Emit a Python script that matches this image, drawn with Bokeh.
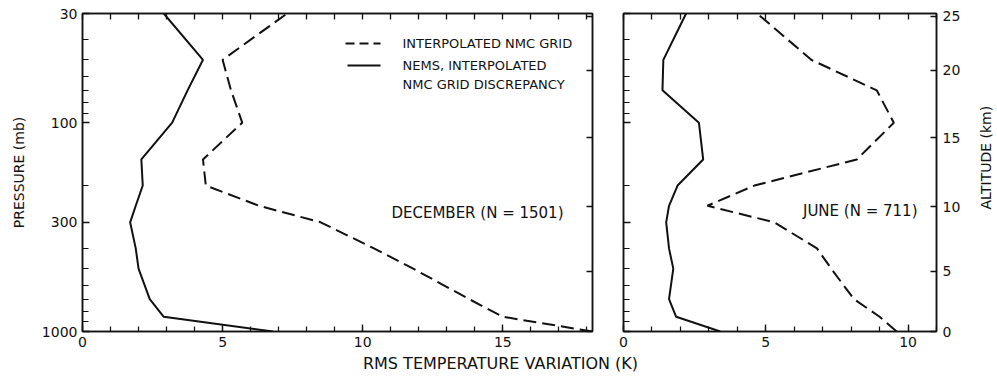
from math import pi

from bokeh.plotting import figure
from bokeh.layouts import row, column
from bokeh.models import (Range1d, FixedTicker, LogAxis, LinearAxis, Label,
                          Arrow, NumeralTickFormatter, CustomLabelingPolicy)
from bokeh.embed import file_html
from bokeh.resources import INLINE

FONT = "DejaVu Sans"
INK = "#111111"

# Pressure levels (mb) at which the profiles are given
LEVELS = [1000, 850, 700, 500, 400, 300, 250, 200, 150, 100, 70, 50, 30]

# December (N = 1501): RMS temperature variation (K)
DEC_NMC = [18.2, 15.0, 13.8, 11.8, 10.4, 8.5, 6.3, 4.4, 4.3, 5.7, 5.3, 5.0, 7.3]
DEC_DISC = [6.8, 2.9, 2.4, 2.0, 1.9, 1.7, 1.9, 2.15, 2.1, 3.2, 3.75, 4.3, 2.9]

# June (N = 711)
JUN_NMC = [9.6, 9.0, 8.1, 7.3, 6.8, 5.3, 2.95, 4.6, 8.2, 9.5, 8.9, 6.6, 4.7]
JUN_DISC = [3.4, 1.85, 1.6, 1.75, 1.6, 1.5, 1.6, 1.9, 2.8, 2.65, 1.37, 1.4, 2.2]

# Axis ticks
P_TICKS = [30, 100, 300, 1000]
P_MINOR = [40, 50, 60, 70, 80, 90, 200, 400, 500, 600, 700, 800, 900]
ALT_KM = [0, 5, 10, 15, 20, 25]
ALT_P = [1000, 516, 252, 118, 56, 31]   # pressure level of each altitude mark
X_TICKS = [0, 5, 10, 15]

SERIES_NAMES = ["INTERPOLATED NMC GRID", "NEMS, INTERPOLATED\nNMC GRID DISCREPANCY"]

# drops every tick label of an axis that only carries tick marks
NO_LABELS = "for (const i of [...indices]) indices.unset(i); return indices;"


def style_ticks(ax, tick_in=6, minor_in=5):
    ax.axis_line_color = INK
    ax.axis_line_width = 1.5
    ax.major_tick_line_color = INK
    ax.minor_tick_line_color = INK
    ax.major_tick_line_width = 1.3
    ax.minor_tick_line_width = 1.2
    ax.major_tick_in = tick_in
    ax.major_tick_out = 0
    ax.minor_tick_in = minor_in
    ax.minor_tick_out = 0
    ax.major_label_text_font = FONT
    ax.major_label_text_font_size = "14px"
    ax.major_label_text_color = INK


def hide_labels(ax):
    ax.major_label_policy = CustomLabelingPolicy(code=NO_LABELS)
    ax.major_label_text_font_size = "0px"
    ax.major_label_standoff = 0


def make_panel(xmax, frame_w, border_l, border_r, p_labels, alt_labels):
    p = figure(frame_width=frame_w, frame_height=318,
               x_range=Range1d(0, xmax), y_range=Range1d(1000, 30),
               y_axis_type="log", output_backend="svg", toolbar_location=None,
               min_border_left=border_l, min_border_right=border_r,
               min_border_top=13, min_border_bottom=22)
    p.grid.visible = False
    p.outline_line_color = INK
    p.outline_line_width = 1.5
    p.background_fill_color = "white"
    p.border_fill_color = "white"

    # bottom temperature axis
    xa = p.xaxis[0]
    xa.ticker = FixedTicker(ticks=X_TICKS, minor_ticks=list(range(0, int(xmax) + 1)))
    style_ticks(xa, 7, 5)
    xa.major_label_standoff = 5

    # top axis: unit ticks only
    top = LinearAxis(ticker=FixedTicker(ticks=list(range(0, int(xmax) + 1)), minor_ticks=[]))
    style_ticks(top, 6, 0)
    hide_labels(top)
    p.add_layout(top, "above")

    # left pressure axis
    ya = p.yaxis[0]
    ya.ticker = FixedTicker(ticks=P_TICKS, minor_ticks=P_MINOR)
    ya.formatter = NumeralTickFormatter(format="0")
    style_ticks(ya, 7, 6)
    if p_labels:
        ya.major_label_standoff = 5
        ya.axis_label = "PRESSURE (mb)"
        ya.axis_label_text_font = FONT
        ya.axis_label_text_font_size = "14px"
        ya.axis_label_text_font_style = "normal"
        ya.axis_label_text_color = INK
        ya.axis_label_standoff = 12
    else:
        hide_labels(ya)

    # right altitude axis
    alt = LogAxis(ticker=FixedTicker(ticks=ALT_P, minor_ticks=[]),
                  major_label_overrides={pp: str(km) for pp, km in zip(ALT_P, ALT_KM)})
    style_ticks(alt, 6, 0)
    if alt_labels:
        alt.major_label_standoff = 6
    else:
        hide_labels(alt)
    p.add_layout(alt, "right")
    return p


def draw_profiles(p, nmc, disc):
    p.line(nmc, LEVELS, line_color=INK, line_width=2, line_dash="13 6")
    p.line(disc, LEVELS, line_color=INK, line_width=2)


def text(p, s, x, y, align="left", size="14px"):
    p.add_layout(Label(x=x, y=y, x_units="screen", y_units="screen", text=s,
                       text_font=FONT, text_font_size=size, text_color=INK,
                       text_align=align, text_baseline="middle"))


def text_strip(width, height, s, x, y, angle, size):
    f = figure(width=width, height=height, x_range=Range1d(0, width),
               y_range=Range1d(0, height), x_axis_location=None, y_axis_location=None,
               min_border=0, toolbar_location=None, output_backend="svg")
    f.grid.visible = False
    f.outline_line_color = None
    f.add_layout(Label(x=x, y=y, text=s, angle=angle, text_font=FONT,
                       text_font_size=size, text_color=INK,
                       text_align="center", text_baseline="middle"))
    return f


left = make_panel(18.2, 510, 82, 16, True, False)
right = make_panel(11.0, 313, 15, 40, False, True)

draw_profiles(left, DEC_NMC, DEC_DISC)
draw_profiles(right, JUN_NMC, JUN_DISC)

# legend
left.add_layout(Arrow(x_start=263, y_start=288, x_end=298, y_end=288,
                      start_units="screen", end_units="screen", end=None,
                      line_color=INK, line_width=2, line_dash="9 5"))
left.add_layout(Arrow(x_start=265, y_start=266, x_end=298, y_end=266,
                      start_units="screen", end_units="screen", end=None,
                      line_color=INK, line_width=2))
name_a = SERIES_NAMES[0]
name_b1, name_b2 = SERIES_NAMES[1].split("\n")
text(left, name_a, 320, 288, size="13px")
text(left, name_b1, 320, 266, size="13px")
text(left, name_b2, 320, 247, size="13px")

# panel captions
text(left, "DECEMBER (N = 1501)", 481, 119, align="right", size="15px")
text(right, "JUNE (N = 711)", 294, 121, align="right", size="15px")

# altitude title beside the right panel, temperature title under both panels
alt_title = text_strip(21, 353, "ALTITUDE (km)", 9, 193, pi / 2, "14px")
x_title = text_strip(997, 27, "RMS TEMPERATURE VARIATION (K)", 500, 17, 0.0, "16px")

layout = column(row(left, right, alt_title), x_title)
open("out.html", "w").write(file_html(layout, INLINE))
